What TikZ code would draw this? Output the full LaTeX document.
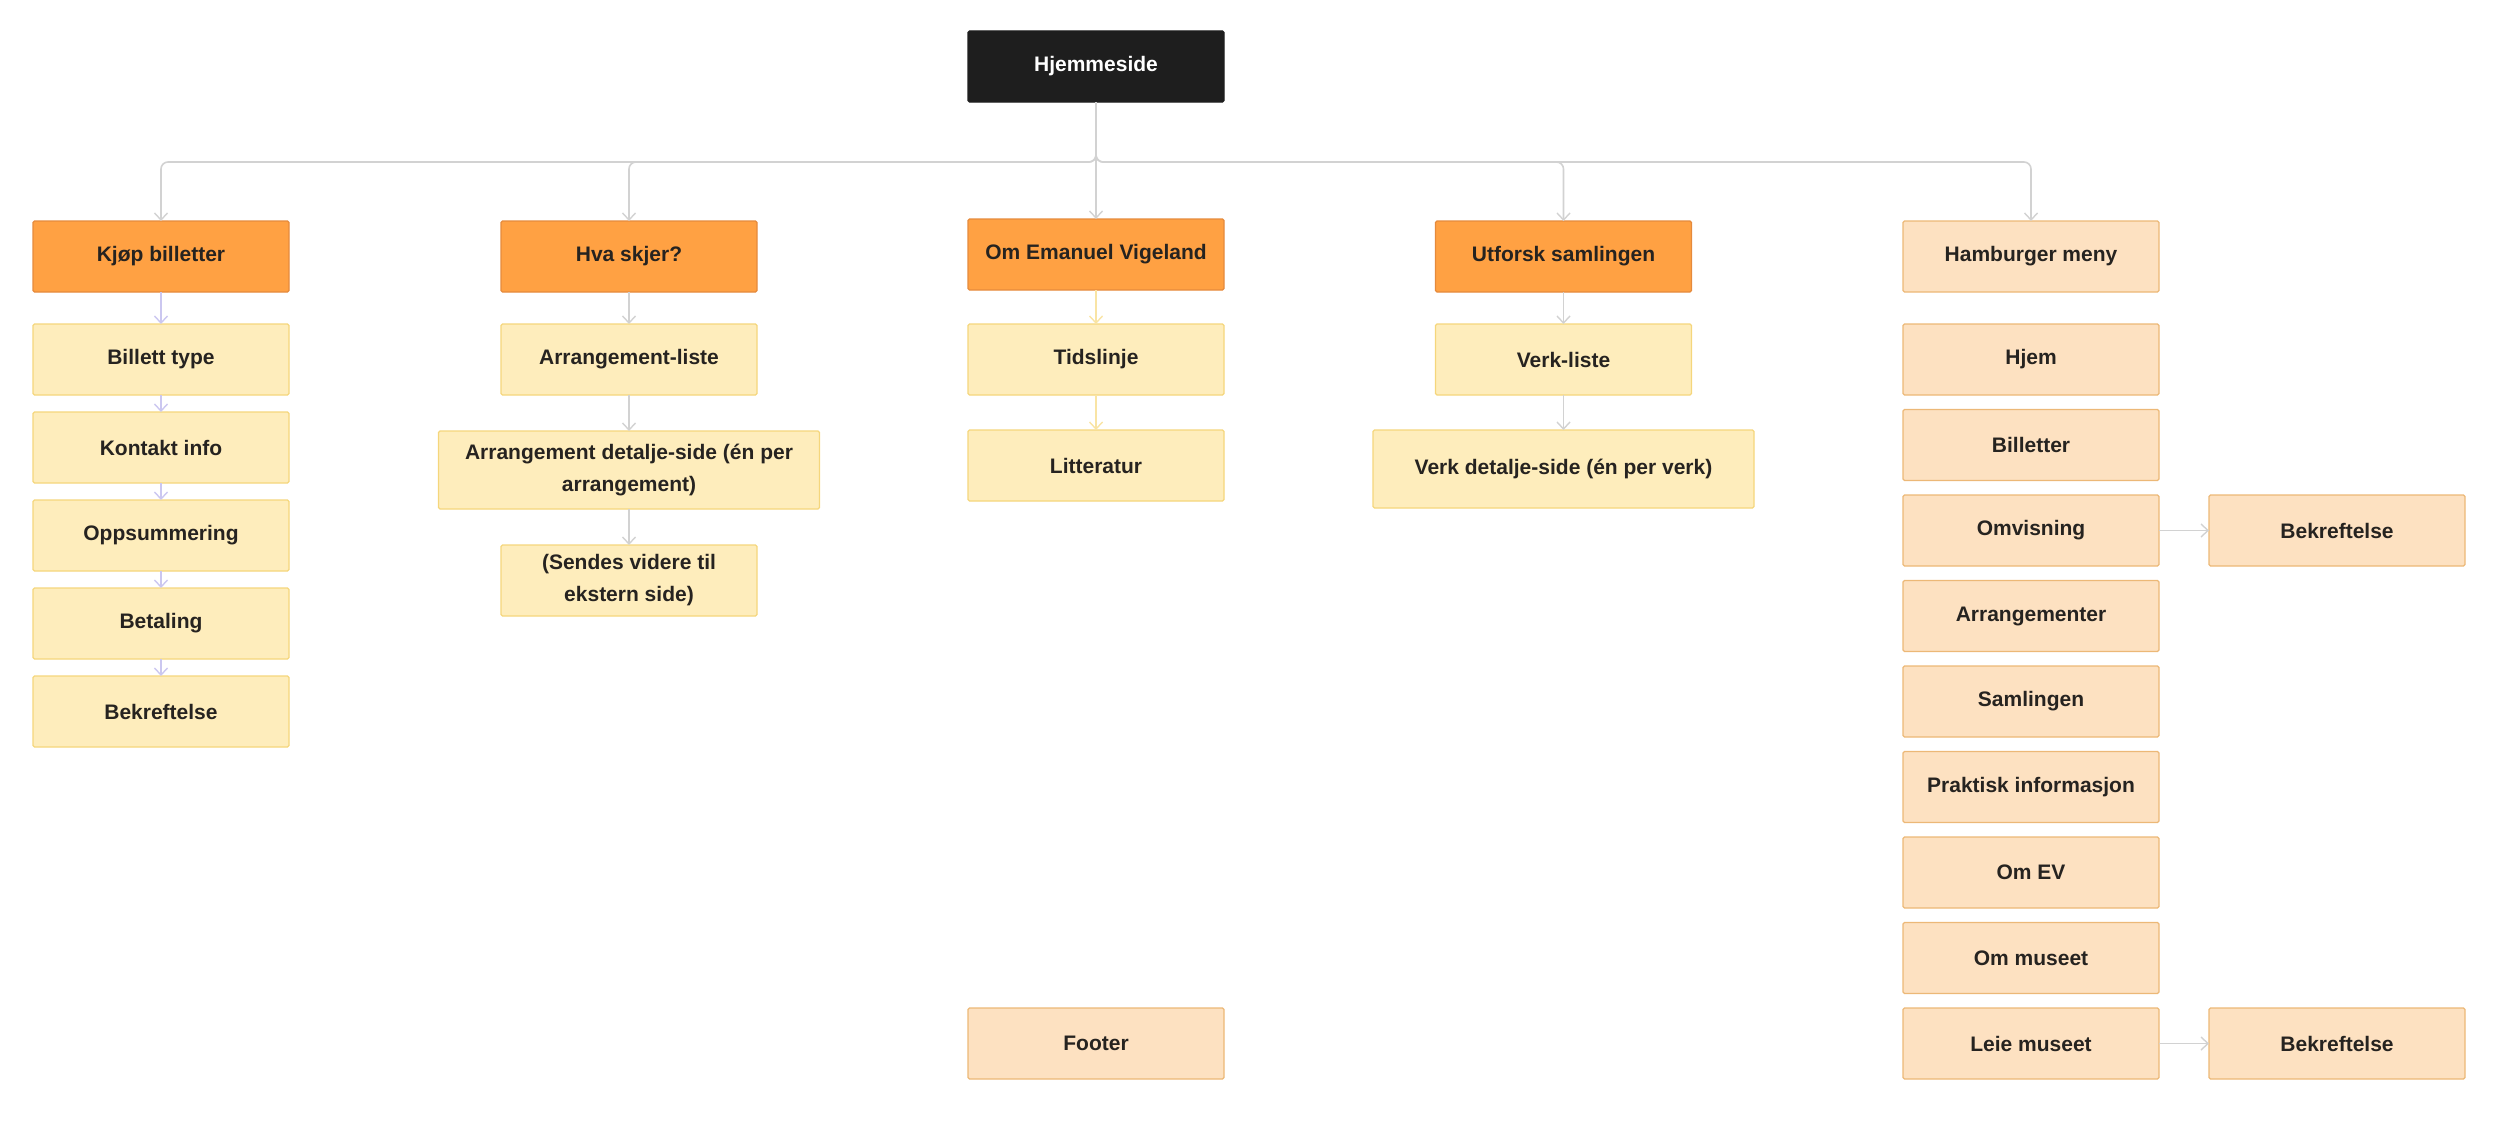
\documentclass[tikz,border=0pt]{standalone}
\usepackage{fontspec}
\setmainfont{Liberation Sans}
\usepackage{tikz}
\usetikzlibrary{positioning,arrows.meta}
\usepackage{xcolor}

\definecolor{homefill}{HTML}{1E1E1E}
\definecolor{topfill}{HTML}{FFA143}
\definecolor{topline}{HTML}{E58A3C}
\definecolor{subfill}{HTML}{FEEDBC}
\definecolor{subline}{HTML}{F5D67C}
\definecolor{menufill}{HTML}{FDE1C1}
\definecolor{menuline}{HTML}{ECB877}
\definecolor{txt}{HTML}{262320}
\definecolor{linkgray}{HTML}{D2D2D2}
\definecolor{linklilac}{HTML}{CBC7F0}
\definecolor{linkyellow}{HTML}{F9E4A4}

\begin{document}
\begin{tikzpicture}[x=1pt, y=1pt, node distance=17pt]
    \tikzstyle{box} = [rectangle, draw, line width=1.2pt, rounded corners=1.5pt,
    minimum width=256pt, minimum height=71pt, inner sep=4pt, outer sep=0pt,
    text=txt, align=center,
    font=\bfseries\fontsize{21}{32}\selectfont]
    \tikzstyle{home} = [box, fill=homefill, draw=homefill, text=white]
    \tikzstyle{top} = [box, fill=topfill, draw=topline]
    \tikzstyle{sub} = [box, fill=subfill, draw=subline]
    \tikzstyle{menu} = [box, fill=menufill, draw=menuline]
    \tikzstyle{wide} = [minimum width=381pt, minimum height=78pt]
    \tikzstyle{link} = [draw=linkgray, line width=1.6pt,
    -{Straight Barb[length=7pt, width=13pt, line width=1.4pt]}]

    \useasboundingbox (0,0) rectangle (2500,-1124);

    % Root and first level
    \node[home] (hjemmeside) at (1096,-66.5) {Hjemmeside};
    \node[top] (kjop) at (161,-256.5) {Kjøp billetter};
    \node[top] (hva) at (629,-256.5) {Hva skjer?};
    \node[top] (om) at (1096,-254.5) {Om Emanuel Vigeland};
    \node[top] (utforsk) at (1563.5,-256.5) {Utforsk samlingen};
    \node[menu] (meny) at (2031,-256.5) {Hamburger meny};

    % Kjop billetter
    \node[sub, below=32pt of kjop] (billetttype) {Billett type};
    \node[sub, below=of billetttype] (kontakt) {Kontakt info};
    \node[sub, below=of kontakt] (oppsum) {Oppsummering};
    \node[sub, below=of oppsum] (betaling) {Betaling};
    \node[sub, below=of betaling] (bekreft) {Bekreftelse};

    % Hva skjer
    \node[sub, below=32pt of hva] (arrliste) {Arrangement-liste};
    \node[sub, wide, below=36pt of arrliste] (arrdetalj) {Arrangement detalje-side (én per\\arrangement)};
    \node[sub, below=36pt of arrdetalj] (sendes) {(Sendes videre til\\ekstern side)};

    % Om Emanuel Vigeland
    \node[sub, below=34pt of om] (tidslinje) {Tidslinje};
    \node[sub, below=35pt of tidslinje] (litteratur) {Litteratur};

    % Utforsk samlingen
    \node[sub, below=32pt of utforsk] (verkliste) {Verk-liste};
    \node[sub, wide, below=35pt of verkliste] (verkdetalj) {Verk detalje-side (én per verk)};

    % Hamburger meny
    \node[menu, below=32pt of meny] (hjem) {Hjem};
    \node[menu, below=14.5pt of hjem] (billetter) {Billetter};
    \node[menu, below=14.5pt of billetter] (omvisning) {Omvisning};
    \node[menu, below=14.5pt of omvisning] (arrangementer) {Arrangementer};
    \node[menu, below=14.5pt of arrangementer] (samlingen) {Samlingen};
    \node[menu, below=14.5pt of samlingen] (praktisk) {Praktisk informasjon};
    \node[menu, below=14.5pt of praktisk] (omev) {Om EV};
    \node[menu, below=14.5pt of omev] (ommuseet) {Om museet};
    \node[menu, below=14.5pt of ommuseet] (leie) {Leie museet};
    \node[menu, right=50pt of omvisning] (bekreftomv) {Bekreftelse};
    \node[menu, right=50pt of leie] (bekreftleie) {Bekreftelse};

    \node[menu] (footer) at (om |- leie) {Footer};

    % Connectors
    \foreach \n in {kjop,hva,utforsk,meny}
      \draw[link, rounded corners=7pt] (hjemmeside.south) |- ([yshift=59pt]\n.north) -- (\n.north);
    \draw[link] (hjemmeside.south) -- (om.north);

    \draw[link, draw=linklilac] (kjop) -- (billetttype);
    \draw[link, draw=linklilac] (billetttype) -- (kontakt);
    \draw[link, draw=linklilac] (kontakt) -- (oppsum);
    \draw[link, draw=linklilac] (oppsum) -- (betaling);
    \draw[link, draw=linklilac] (betaling) -- (bekreft);

    \draw[link] (hva) -- (arrliste);
    \draw[link] (arrliste) -- (arrdetalj);
    \draw[link] (arrdetalj) -- (sendes);

    \draw[link, draw=linkyellow] (om) -- (tidslinje);
    \draw[link, draw=linkyellow] (tidslinje) -- (litteratur);

    \draw[link] (utforsk) -- (verkliste);
    \draw[link] (verkliste) -- (verkdetalj);

    \draw[link] (omvisning) -- (bekreftomv);
    \draw[link] (leie) -- (bekreftleie);

  \end{tikzpicture}
\end{document}
